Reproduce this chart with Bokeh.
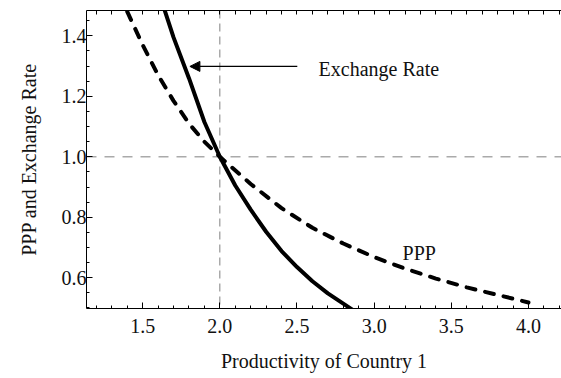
from bokeh.plotting import figure
from bokeh.models import (Range1d, LinearAxis, FixedTicker, Span, Arrow, NormalHead,
                          ColumnDataSource, PrintfTickFormatter)
from bokeh.core.properties import value
from bokeh.embed import file_html
from bokeh.resources import INLINE

# Exchange rate (solid) against productivity of country 1
er_x = [1.62, 1.70, 1.80, 1.90, 2.00, 2.10, 2.20, 2.30, 2.40, 2.50, 2.60, 2.70, 2.80, 2.90]
er_y = [1.52, 1.395, 1.26, 1.115, 1.00, 0.905, 0.825, 0.752, 0.688, 0.635, 0.588, 0.548, 0.514, 0.48]

# Purchasing power parity (dashed)
ppp_x = [1.40, 1.50, 1.60, 1.70, 1.80, 1.90, 2.00, 2.20, 2.40, 2.60, 2.80, 3.00, 3.20, 3.40, 3.60, 3.80, 4.00]
ppp_y = [1.48, 1.37, 1.27, 1.185, 1.11, 1.05, 1.00, 0.91, 0.83, 0.765, 0.713, 0.668, 0.63, 0.597, 0.568, 0.543, 0.518]

x_major = [1.5, 2.0, 2.5, 3.0, 3.5, 4.0]
x_minor = [1.2, 1.3, 1.4, 1.6, 1.7, 1.8, 1.9, 2.1, 2.2, 2.3, 2.4, 2.6, 2.7, 2.8, 2.9,
           3.1, 3.2, 3.3, 3.4, 3.6, 3.7, 3.8, 3.9, 4.1, 4.2]
y_major = [0.6, 0.8, 1.0, 1.2, 1.4]
y_minor = [0.5, 0.55, 0.65, 0.7, 0.75, 0.85, 0.9, 0.95, 1.05, 1.1, 1.15, 1.25, 1.3, 1.35, 1.45]

FONT = "Liberation Serif"
FS = "20px"

p = figure(width=561, height=378, output_backend="svg", toolbar_location=None,
           x_range=Range1d(1.136, 4.214), y_range=Range1d(0.498, 1.484),
           x_axis_location=None, y_axis_location=None,
           min_border_left=86, min_border_right=0, min_border_top=10, min_border_bottom=70)
p.outline_line_color = None
p.xgrid.visible = False
p.ygrid.visible = False
p.background_fill_color = "white"
p.border_fill_color = "white"


def style_axis(ax):
    ax.axis_line_color = "black"
    ax.axis_line_width = 1
    ax.major_tick_line_color = "black"
    ax.minor_tick_line_color = "black"
    ax.major_tick_in = 6
    ax.major_tick_out = 0
    ax.minor_tick_in = 3
    ax.minor_tick_out = 0
    ax.major_label_text_font = FONT
    ax.major_label_text_font_size = FS
    ax.major_label_text_color = "#111111"
    ax.axis_label_text_font = FONT
    ax.axis_label_text_font_size = FS
    ax.axis_label_text_font_style = "normal"
    ax.axis_label_text_color = "#111111"


fmt = PrintfTickFormatter(format="%.1f")

xb = LinearAxis(ticker=FixedTicker(ticks=x_major, minor_ticks=x_minor),
                formatter=fmt, axis_label="Productivity of Country 1")
style_axis(xb)
xb.major_label_standoff = 10
xb.axis_label_standoff = 14
p.add_layout(xb, "below")

# top frame edge: tick marks only, no labels
xt = LinearAxis(ticker=FixedTicker(ticks=[], minor_ticks=x_major + x_minor))
style_axis(xt)
xt.minor_tick_in = 4
p.add_layout(xt, "above")

yl = LinearAxis(ticker=FixedTicker(ticks=y_major, minor_ticks=y_minor),
                formatter=fmt, axis_label="PPP and Exchange Rate")
style_axis(yl)
yl.major_label_standoff = 0
yl.axis_label_standoff = 19
p.add_layout(yl, "left")

# reference lines through the crossing point
p.add_layout(Span(location=2.0, dimension="height", line_color="#808080",
                  line_width=1, line_dash="8 5", level="underlay"))
p.add_layout(Span(location=1.0, dimension="width", line_color="#aaaaaa",
                  line_width=1.5, line_dash="10 8", level="underlay"))

p.line(er_x, er_y, line_color="black", line_width=4)
p.line(ppp_x, ppp_y, line_color="black", line_width=4, line_dash="9 10",
       line_cap="round")

# annotations
p.add_layout(Arrow(end=NormalHead(size=10, fill_color="black", line_color="black"),
                   x_start=2.502, y_start=1.299, x_end=1.806, y_end=1.299,
                   line_color="black", line_width=1.3))

labels = ColumnDataSource(dict(x=[2.64, 3.184], y=[1.289, 0.680],
                               t=["Exchange Rate", "PPP"]))
p.text(x="x", y="y", text="t", source=labels, text_font=value(FONT),
       text_font_size=FS, text_color="#111111", text_baseline="alphabetic",
       text_align="left")

open("out.html", "w").write(file_html(p, INLINE))
